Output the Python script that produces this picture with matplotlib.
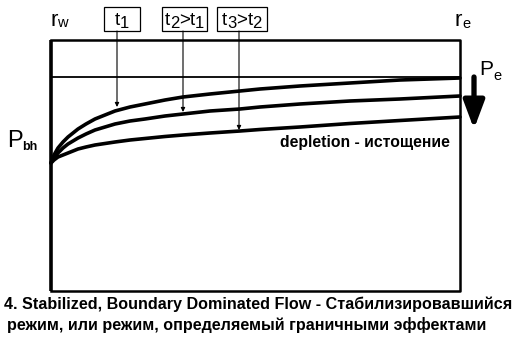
import matplotlib
matplotlib.use("Agg")
import matplotlib.pyplot as plt
from matplotlib.patches import Rectangle

plt.rcParams["font.family"] = ["Liberation Sans", "DejaVu Sans"]

# schematic in pixel-like coordinates (x to the right, y downward)
r_span = [51, 460]
p_initial = 77
curve_x = [51, 54, 58, 63, 68, 73, 78, 86, 95, 105, 115, 130, 145, 165, 183, 210, 240, 260, 300, 350, 400, 460]
curve_t1 = [163, 155, 148, 142, 137, 133, 129, 124, 119, 115, 111, 107, 104, 100, 97, 94, 91, 89, 86, 83, 80, 78]
curve_t2 = [163, 158, 153, 148, 144, 141, 138, 134, 130, 127, 124, 121, 119, 116, 114, 111, 109, 107, 104, 101, 99, 96]
curve_t3 = [163, 160, 157, 155, 153, 151, 149, 147, 145, 143.5, 142, 140, 138.5, 136.5, 135, 133, 131, 129.5, 127, 123.5, 120.5, 117]
# box labels as runs of (text, is_subscript)
time_labels = [
    [("t", False), ("1", True)],
    [("t", False), ("2", True), (">", False), ("t", False), ("1", True)],
    [("t", False), ("3", True), (">", False), ("t", False), ("2", True)],
]
time_boxes = [(104, 140), (162, 207), (217, 267)]
arrow_x = [117, 183, 239]
arrow_tip_y = [107, 112, 130]

fig = plt.figure(figsize=(5.12, 3.38), dpi=100)
ax = fig.add_axes([0, 0, 1, 1])
ax.set_xlim(0, 512)
ax.set_ylim(338, 0)
ax.axis("off")
renderer = fig.canvas.get_renderer()


def draw_runs(x, y, runs, size, subsize, dy, center=False, subweight="normal"):
    """Write base text and subscripts one after another from x along baseline y."""
    texts = []
    cur = x
    for s, is_sub in runs:
        t = ax.text(cur, y + (dy if is_sub else 0), s, ha="left", va="baseline",
                    fontsize=subsize if is_sub else size,
                    fontweight=subweight if is_sub else "normal")
        bb = t.get_window_extent(renderer)
        cur += bb.width  # 1 data unit == 1 pixel here
        texts.append(t)
    if center:
        shift = (cur - x) / 2
        for t in texts:
            t.set_x(t.get_position()[0] - shift)


# frame
ax.plot([r_span[0], r_span[0]], [40, 291], color="black", lw=2.6, solid_capstyle="butt")
ax.plot([r_span[0], r_span[1], r_span[1], r_span[0]], [40, 40, 291, 291], color="black", lw=1.8)
ax.plot(r_span, [p_initial, p_initial], color="black", lw=1.3)

for ys in (curve_t1, curve_t2, curve_t3):
    ax.plot(curve_x, ys, color="black", lw=2.6, solid_capstyle="round",
            solid_joinstyle="round")

for runs, (x0, x1), ax_x, ty in zip(time_labels, time_boxes, arrow_x, arrow_tip_y):
    ax.add_patch(Rectangle((x0, 7), x1 - x0, 24, fc="white", ec="black", lw=0.9))
    draw_runs((x0 + x1) / 2, 25, runs, 13.5, 12, 3, center=True)
    ax.annotate("", xy=(ax_x, ty), xytext=(ax_x, 31),
                arrowprops=dict(arrowstyle="-|>", color="black", lw=0.8,
                                mutation_scale=6, shrinkA=0, shrinkB=0))

draw_runs(50, 26, [("r", False), ("w", True)], 16, 10.5, 1)
draw_runs(455, 26, [("r", False), ("e", True)], 16, 10.5, 2)
draw_runs(7, 147, [("P", False), ("bh", True)], 17, 9, 3, subweight="bold")
draw_runs(479, 75, [("P", False), ("e", True)], 15, 10.5, 5)

ax.annotate("", xy=(474, 129), xytext=(474, 77),
            arrowprops=dict(arrowstyle="-|>,head_width=0.45,head_length=1.2",
                            color="black", lw=3.8, mutation_scale=14,
                            shrinkA=0, shrinkB=0))

ax.text(365, 143, "depletion - истощение", ha="center", va="center",
        fontsize=11.3, fontweight="bold")
ax.text(258, 304, "4. Stabilized, Boundary Dominated Flow - Стабилизировавшийся",
        ha="center", va="center", fontsize=11.6, fontweight="bold")
ax.text(247, 325, "режим, или режим, определяемый граничными эффектами",
        ha="center", va="center", fontsize=11.6, fontweight="bold")

fig.savefig("out.png", dpi=100)
